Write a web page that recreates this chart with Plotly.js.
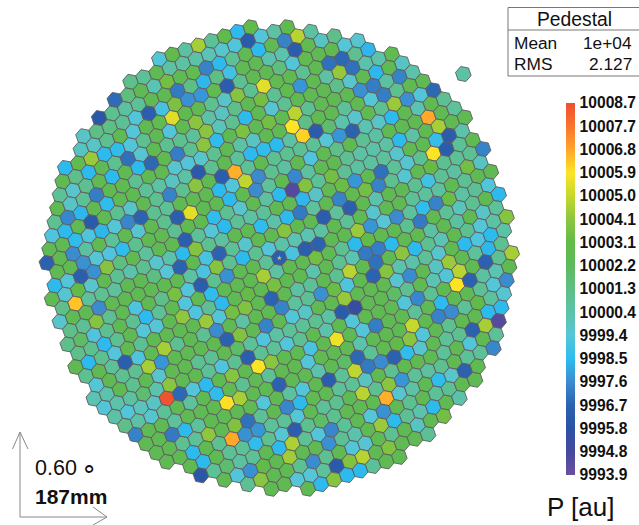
<!DOCTYPE html>
<html><head><meta charset="utf-8">
<script src="https://cdn.plot.ly/plotly-3.0.1.min.js"></script>
<style>html,body{margin:0;padding:0;background:#fff}#c{width:639px;height:525px}</style>
</head><body><div id="c"></div>
<script>
const pedestal = 10000;
// Pixel readings relative to the pedestal, one list per camera row, top row first, left to right.
const row19 = [-.6,3,.6,4.5,.8,2.8,-1.5,3];
const row18 = [1.2,.8,2.6,.5,.5,.4,.1,-.3,-.6,-3.8,-.6,.5,2.8];
const row17 = [-3.1,1.5,2.5,.2,3.5,2.6,2.7,-2.6,-1.5,.8,2.6,-1.5,2.6,-2.6,4.8,.6];
const row16 = [-3.9,1,.6,.8,2.6,2.6,-2.8,1.3,-1.6,1.3,-1,2.6,2.6,.3,.3,-3.6,2.7,-.1,1.2];
const row15 = [-.2,1.3,1.3,.9,-.6,-3.5,-.9,3.7,-2.3,-2.2,2.7,-3.6,1,2.6,2.6,1.5,-.6,2.7,2.6,2.6,-.5,-.4];
const row14 = [-.1,-.2,1,2.6,-.5,2.6,2.7,5.4,2.8,2.6,1,-.2,3.9,1,5.5,2.7,2.6,1,2.6,-3,-3.2,1,-1.6];
const row13 = [-1.5,2.7,4.3,-1.5,-1.4,-.6,1,2.6,-.6,2.6,4,.4,-.1,1.2,2.6,3.5,1,2.7,-2.2,2.6,.5,4.2,-3,.3,.3,2.7];
const row12 = [2.6,1.2,-1.5,2.6,1,-3,-.4,2.6,1,1,.8,4,0,1,-1.5,2.6,-.4,1,2.6,2.6,2.6,1.2,-.3,2.6,-1.6,2.6,-.1];
const row11 = [.8,-.3,1,2.6,-1.5,2.6,-1.5,-3.2,2.6,-2.7,1,4,-1.4,2.6,3.7,2.6,3.5,2.6,4.8,1,2.6,2.6,2.6,-2.3,-2.7,.6,-2.6,.3];
const row10 = [2.6,-.2,.8,-2.7,2.6,2.6,1,2.6,2.6,-.4,-.6,-.3,1,2.6,.5,-.1,2.6,2.6,5.9,1.3,2.6,2.6,.8,2.6,-.5,-2.7,1,2.6,2.6];
const row9 = [1,-2.5,-1.6,2.6,-1.4,2.6,2.6,.8,.5,-.1,.5,-3.8,1,2.6,.8,-1.5,-1.4,-1.5,.5,6.2,-3.7,1.8,.3,-.3,2.6,1,4.3,-2.3,-.6,-3.2];
const row8 = [-.7,-1.5,2.6,-3.8,2.6,1,-.2,2.6,1,-2.6,1,4,2.6,-3.6,6.7,.8,2.6,1,1,1,.8,-.5,-2.2,-3.4,.2,-.2,-1.5,2.6,.2,2.6,.9];
const row7 = [2.6,2.6,-1.4,-.7,-1.6,-.5,-2.5,-3.3,1,.8,2.6,2.6,2.6,-1.5,-.6,4.9,-2.4,1,.6,2.6,-.7,2.6,1.2,2.6,.9,.6,2.6,2.6,2.6,6.8,2.6,.7];
const row6 = [-3.4,2.6,-2.4,.6,2.6,.8,2.6,-.4,2.6,1,-3.5,5.5,2.6,2.6,-1.5,2.6,-2.4,.7,2.6,-2.5,.6,2.6,2.6,.9,.5,.4,.5,-1.5,.5,2.6,4.5,2.6,2.6];
const row5 = [2.6,2.6,-2.3,-.5,-.7,-1.4,1,2.6,2.6,.9,2.6,2.6,-1.4,1,-.3,2.6,.6,-1.5,-5.5,3.8,.8,3.5,.9,.6,.6,.7,-.3,2.6,2.6,-1.3,-3.6,.3];
const row4 = [-1.5,-.6,-3.5,-2.3,3.9,1.4,2.6,.7,2.6,2.6,-3.5,.8,-.5,-1.5,.8,.5,.8,2.6,2.6,-1.6,-.2,2.6,3.3,-2.2,2.6,-3,.8,-.4,1,5.9,-3.6,.8,2.6];
const row3 = [2.6,-.4,3,-.3,2.6,.9,.3,1,-.3,.3,-1.5,3.9,1,.6,2.6,2.6,-1.4,.4,-1.5,-2.8,.7,2.6,-2.6,2.6,3.5,-2.6,1,-.4,2.6,3.2,1,.8,.9,-2.6];
const row2 = [1.2,6.4,.7,1,.7,2.5,2.6,1.4,-.5,-3.4,2.6,-.8,-3.3,.8,-.3,2.6,2.6,3.9,2.6,2.6,-3.6,.7,-3.5,2.6,.3,2.6,2.6,1,-1,.9,.6,3.5,-.1];
const row1 = [-.3,2.6,2.5,-2.4,2.6,2.6,2.6,2.6,2.6,2.6,.5,-.8,3.9,1,-1.5,1,-.6,.4,.2,.2,.6,2.6,.8,2.6,-.3,2.6,2.6,.8,.7,.6,2.6,.9,2.6,2.6];
const row0 = [1.2,.9,3.9,1,2.6,-.7,2.6,1.2,3.6,-.6,-3.6,1,-2.3,2.6,2.6,.8,-3.5,-.8,-3.5,-3.4,2.6,2.6,4.3,-2.2,-.5,-2.4,.7,-1.4,-2.6,3.3,.5,.9,-.6];
const rowM1 = [1.2,2,-.7,1,2.6,1,-1.5,.8,2.6,-.6,2.6,-1.4,2.6,2.6,2.6,4.5,.5,2.6,2.6,3.5,2.6,1,-1.5,3,2.6,2.6,1,-2.8,2.6,.8,0,1,2.6,-1.5];
const rowM2 = [1.2,1,-1.5,1,2.6,-.5,-.5,2.6,4.1,-.7,.9,-1.5,2.6,3.2,2.6,3.6,2.6,2.6,.3,2.6,1,.2,-2.8,-2.7,-1.5,2.6,2.6,.6,2.6,.6,2.6,-.2,.7];
const rowM3 = [2.6,-1.5,1,-.6,2.6,1,2.6,2.6,2.6,2.6,4.3,-.6,3.5,3.8,2.6,-3.3,2.6,.6,.8,2.6,1,4.8,2.6,-3,2.6,4,-1.5,1,.2,2.6,1,-.5,.5,3.9];
const rowM4 = [1,2.6,.8,-3.5,-.7,2.6,4.5,1,2.6,1,-2.4,2.6,.5,2.6,2.6,-2.6,.7,.9,-2.3,3.3,-.7,2.6,-3.3,3.9,.3,.4,.8,-.3,2.6,-1.5,-.7,-1.5,.4];
const rowM5 = [-.5,2.6,1,1,4.5,-2.2,2.6,2.6,2.6,2.6,-3.4,3.8,2.6,-2.6,2.6,-.6,-.2,2.6,2.6,4.2,2.6,2.6,2.6,-.4,-2.4,2.6,-.1,4.3,2.6,.7,-1.6,1];
const rowM6 = [.2,.3,2.6,1,2.6,-.3,2.6,2.6,1,1,2.6,2,.8,-.7,.5,.8,.8,1,.5,-3.7,-4.6,2.6,2.6,2,1,2.6,.2,-.6,4.8,2.6,-3.4,.9,4.5];
const rowM7 = [-.6,.3,.6,1.8,.3,4,2.6,2.6,.8,-.7,1,-3.5,.9,.8,-.6,1,2.6,.3,2.6,-.6,2.6,2.6,2.6,-.6,-2.5,1,2.6,5.9,-3.4,.6,.2,2.6];
const rowM8 = [.4,-.6,0,-.2,8.6,-3.2,-.6,-1.5,2.6,3.9,2.6,5.9,4,2.6,2.6,-.8,2.6,5.7,2.6,-.6,-2.7,2.6,2.6,.8,2.6,-1.5,2.6,2.6,.9,-.5,-2.4];
const rowM9 = [1.2,.5,-.4,.8,2.6,.7,2.6,-1.4,2.6,1,2.6,.8,2.6,2.6,-.6,2.6,2.6,2.6,.3,2.6,2.6,2.6,5,2.6,-2.6,-2.4,.8,3,.7,-.4];
const rowM10 = [-2.6,2.6,2.6,.7,2.6,2.6,2.6,6,4.5,2.6,2.6,-3.4,2.6,2.6,.3,2.6,2,-3.2,.8,2.6,3,4,-.6,2.6,1,2.6,2.6,-1.5,-1.5];
const rowM11 = [2.6,2.6,-2.8,-1.5,.7,2.6,2.6,2.6,2.6,-.5,2.6,.6,-.6,2.6,-3.6,.8,4.9,-2.8,-2.4,-3.4,-1.4,-.3,2.6,.8,1,-3.4,4.5,-5.6];
const rowM12 = [2.6,2.6,1,.8,4.1,2.6,3.8,-3,.8,2.6,-2.5,-1.5,2.6,2.6,.8,.8,-.1,2.6,1,2.6,2.6,2.6,.8,2.6,-.6,2.6,.8];
const rowM13 = [2.6,2.6,-1.5,2.6,1,6.8,-2.3,-2.2,.8,.8,-.5,2.6,.8,1,2.6,4.8,1,4,-2.2,.8,.6,1,2.6,.8,.8,-2.5];
const rowM14 = [2.6,-1.5,2.6,.9,.8,-1.4,1,-.5,-3.5,1,2,1,2.6,2.6,2.6,6.7,-.4,.5,2.6,-1.4,-.3,-3.4,2.6];
const rowM15 = [-3.9,.8,1.8,.6,.8,2.6,-1.5,4.6,.8,-.6,-2.5,.8,2.6,-.5,-2.3,2.6,1,2.6,.8,.9,2.6,2.6];
const rowM16 = [2.6,-.6,-2.3,3,2.6,4.4,2.6,2.6,-2.3,.9,.3,2.6,4.3,-1.5,.9,.3,-1.5,2.6,.3];
const rowM17 = [.9,4,2.6,2.6,1,-2.4,1,2.6,-.6,-.4,2.6,1,2.6,-.1,2.6,3.5];
const rowM18 = [2.6,2.6,-.5,-.5,.7,-3.8,3.8,4.8,2.6,3.8,2.6,2.6,.9];
const rowM19 = [2.6,-1.5,3.9,-1.5,-1.5,.8,2.6,2.6];
const cameraRows = [row19,row18,row17,row16,row15,row14,row13,row12,row11,row10,row9,row8,row7,row6,row5,row4,row3,row2,row1,row0,
  rowM1,rowM2,rowM3,rowM4,rowM5,rowM6,rowM7,rowM8,rowM9,rowM10,rowM11,rowM12,rowM13,rowM14,rowM15,rowM16,rowM17,rowM18,rowM19];
const strayPixelValue = [10000.5];
const tickValues = [10008.7,10007.775,10006.85,10005.925,10005,10004.075,10003.15,10002.225,10001.3,10000.375,9999.45,9998.525,9997.6,9996.675,9995.75,9994.825,9993.9];
const tickLabels = ["10008.7","10007.7","10006.8","10005.9","10005.0","10004.1","10003.1","10002.2","10001.3","10000.4","9999.4","9998.5","9997.6","9996.7","9995.8","9994.8","9993.9"];

// hexagonal camera lattice
const CX=279.3, CY=258, AX=13.06, AY=-4.55, BX=2.62, BY=-13.58, MAXN=283;
const xs=[], ys=[], zs=[];
cameraRows.forEach((vals,i)=>{
  const v=19-i; let u=-40;
  while(u*u+u*v+v*v>MAXN) u++;
  vals.forEach((d,k)=>{
    const uu=u+k;
    xs.push(CX+uu*AX+v*BX); ys.push(CY+uu*AY+v*BY); zs.push(pedestal+d);
  });
});
const scale=[[0,'#6a4fa0'],[.0625,'#46489f'],[.125,'#2a52a4'],[.1875,'#2b62b0'],[.25,'#3a8ccf'],[.3125,'#2dbcee'],[.375,'#55c6d8'],[.4375,'#5cc2a8'],[.5,'#5ebf86'],[.5625,'#5eba5c'],[.625,'#62bb47'],[.6875,'#8cc63f'],[.75,'#c5d82e'],[.8125,'#fde425'],[.875,'#ffa52a'],[.9375,'#f8742c'],[1,'#f04e30']];
const cmin=9993.9,cmax=10008.7;
const hexLine={color:'#5c5c5c',width:0.9};
const FONT='"Liberation Sans", Arial, sans-serif';
const traces=[
 {type:'scatter',mode:'markers',x:xs,y:ys,hoverinfo:'skip',showlegend:false,
  marker:{symbol:'hexagon',size:15.9,angle:-19.2,line:hexLine,color:zs,colorscale:scale,cmin,cmax,showscale:true,
   colorbar:{thickness:9,thicknessmode:'pixels',len:372,lenmode:'pixels',x:566/639,xanchor:'left',xpad:0,y:(525-103)/525,yanchor:'top',ypad:0,
     ticks:'outside',ticklen:2,tickwidth:0,tickcolor:'rgba(0,0,0,0)',outlinewidth:0,borderwidth:0,tickmode:'array',tickvals:tickValues,ticktext:tickLabels,
     tickfont:{family:FONT,size:15.6,weight:'bold',color:'#111'}}}},
 {type:'scatter',mode:'markers',x:[463.3],y:[74],hoverinfo:'skip',showlegend:false,
  marker:{symbol:'hexagon',size:15.9,angle:-19.2,line:hexLine,color:strayPixelValue,colorscale:scale,cmin,cmax,showscale:false}},
 {type:'scatter',mode:'markers',x:[CX],y:[CY],hoverinfo:'skip',showlegend:false,
  marker:{symbol:'star',size:4,color:'#c9c85a',line:{width:0}}}
];
const ln=(x0,y0,x1,y1,c,w)=>({type:'line',xref:'x',yref:'y',x0,y0,x1,y1,line:{color:c||'#777',width:w||1}});
const txt=(x,y,t,size,anchor,extra)=>Object.assign({xref:'x',yref:'y',x,y,text:t,showarrow:false,xanchor:anchor||'left',yanchor:'middle',
  font:{family:FONT,size,color:'#111'}},extra||{});
const layout={width:639,height:525,margin:{l:0,r:0,t:0,b:0,pad:0},paper_bgcolor:'#fff',plot_bgcolor:'#fff',showlegend:false,
 xaxis:{range:[0,639],visible:false,fixedrange:true},
 yaxis:{range:[525,0],visible:false,fixedrange:true},
 shapes:[ln(508,7.5,639,7.5),ln(508,30,639,30),ln(508,76,639,76),ln(508,7.5,508,76),
  ln(20,517,20,432,'#888'),ln(20,432,12.5,449,'#888'),ln(20,432,28,449,'#888'),
  ln(20,517,107,517,'#888'),ln(107,517,93,507,'#888'),ln(107,517,93,525,'#888')],
 annotations:[
  txt(574,19,'Pedestal',19.3,'center'),
  txt(512,43,'Mean',17.3),txt(634,43,'1e+04',17.3,'right'),
  txt(512,64,'RMS',17.3),txt(634,64,'2.127',17.3,'right'),
  txt(33,468,'0.60',21.5),
  txt(89,468,'∘',26,'center'),
  txt(33,496,'<b>187mm</b>',21),
  txt(545,507,'P [au]',26)
 ]};
Plotly.newPlot('c',traces,layout,{staticPlot:true,displayModeBar:false});
</script></body></html>
